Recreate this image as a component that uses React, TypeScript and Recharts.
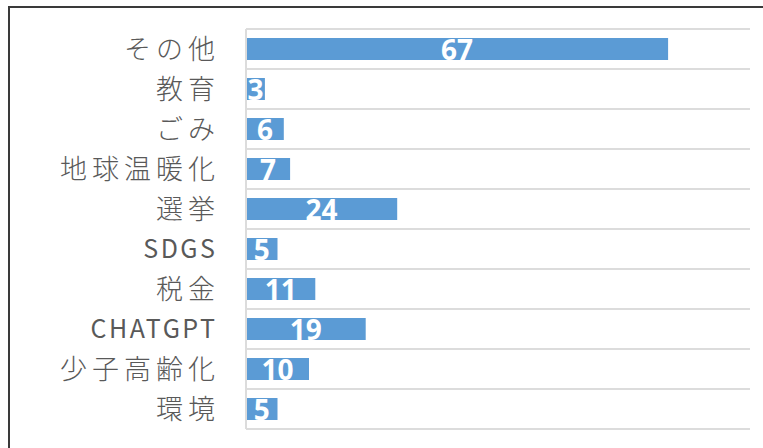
import React from 'react';
import { BarChart, Bar, XAxis, YAxis, CartesianGrid, LabelList } from 'recharts';

const categories = ['その他', '教育', 'ごみ', '地球温暖化', '選挙', 'SDGS', '税金', 'CHATGPT', '少子高齢化', '環境'];
const counts = [67, 3, 6, 7, 24, 5, 11, 19, 10, 5];
const xDomain: [number, number] = [0, 80];

const data = categories.map((name, i) => ({ name, value: counts[i] }));

const renderLabel = (props: any) => {
  const { x, y, width, height, value } = props;
  return (
    <text
      x={Number(x) + Number(width) / 2}
      y={Number(y) + Number(height) / 2}
      dy="0.38em"
      textAnchor="middle"
      fill="#ffffff"
      fontSize={28}
      fontWeight={700}
      fontFamily="'Open Sans', sans-serif"
    >
      {value}
    </text>
  );
};

const renderTick = (props: any) => {
  const { x, y, payload } = props;
  const label = String(payload.value);
  const latin = /^[A-Za-z]+$/.test(label);
  const ls = latin ? 2.5 : 5;
  return (
    <text
      x={x + ls}
      y={y}
      dy="0.36em"
      textAnchor="end"
      fill="#595959"
      fontSize={latin ? 25 : 27}
      fontWeight={latin ? 400 : 300}
      fontFamily="'Noto Sans CJK JP', sans-serif"
      letterSpacing={ls}
    >
      {label}
    </text>
  );
};

const gridGenerator = (args: any) => {
  const { offset } = args;
  const n = categories.length;
  return Array.from({ length: n + 1 }, (_, i) => offset.top + (i * offset.height) / n);
};

export default function App() {
  return (
    <div
      style={{
        position: 'absolute',
        left: 0,
        top: 0,
        width: 763,
        height: 448,
        overflow: 'hidden',
        background: '#ffffff',
      }}
    >
      <div
        style={{
          position: 'absolute',
          left: 8,
          top: 6,
          width: 800,
          height: 500,
          borderTop: '2px solid #3a3a3a',
          borderLeft: '2px solid #3a3a3a',
          boxSizing: 'border-box',
        }}
      />
      <div style={{ position: 'absolute', left: 0, top: 0 }}>
        <BarChart
          width={763}
          height={448}
          data={data}
          layout="vertical"
          margin={{ top: 29, right: 13, bottom: 19, left: 0 }}
        >
          <CartesianGrid
            vertical={false}
            stroke="#dcdcdc"
            strokeWidth={2}
            horizontalCoordinatesGenerator={gridGenerator}
          />
          <XAxis type="number" domain={xDomain} hide />
          <YAxis
            type="category"
            dataKey="name"
            width={246}
            axisLine={{ stroke: '#dcdcdc', strokeWidth: 2 }}
            tickLine={false}
            tickSize={0}
            tickMargin={31}
            interval={0}
            tick={renderTick}
          />
          <Bar dataKey="value" fill="#5b9bd5" barSize={22} isAnimationActive={false}>
            <LabelList dataKey="value" content={renderLabel} />
          </Bar>
        </BarChart>
      </div>
    </div>
  );
}
